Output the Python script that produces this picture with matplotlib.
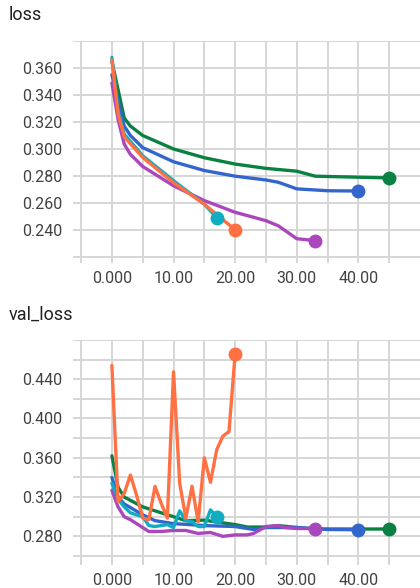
import matplotlib.pyplot as plt
import numpy as np

plt.rcParams['font.family'] = ['Roboto', 'DejaVu Sans']

# run colours (tensorboard style)
col_green = "#0b8043"
col_blue = "#3366cc"
col_purple = "#ab47bc"
col_cyan = "#12acc1"
col_orange = "#ff7043"

# ---- loss (train) ----
loss_green_x = [0, 2, 3, 5, 10, 15, 20, 25, 30, 33, 45]
loss_green_y = [0.365, 0.323, 0.317, 0.310, 0.300, 0.2935, 0.2888, 0.2856, 0.2835, 0.2798, 0.2785]
loss_blue_x = [0, 2, 3, 5, 10, 15, 20, 25, 27, 30, 35, 40]
loss_blue_y = [0.355, 0.317, 0.310, 0.301, 0.2905, 0.284, 0.2798, 0.277, 0.2753, 0.2704, 0.269, 0.2688]
loss_purple_x = [0, 1, 2, 3, 5, 10, 15, 20, 25, 27, 30, 33]
loss_purple_y = [0.349, 0.322, 0.3036, 0.296, 0.287, 0.2727, 0.2617, 0.253, 0.2468, 0.243, 0.2334, 0.232]
loss_cyan_x = [0, 1, 2, 5, 10, 15, 17]
loss_cyan_y = [0.368, 0.328, 0.311, 0.295, 0.2765, 0.259, 0.249]
loss_orange_x = [0, 1, 2, 5, 10, 15, 20]
loss_orange_y = [0.366, 0.326, 0.309, 0.2937, 0.275, 0.259, 0.240]

# ---- val_loss ----
val_green_x = [0, 1, 2, 5, 7, 10, 12, 15, 20, 22, 25, 27, 30, 33, 35, 45]
val_green_y = [0.362, 0.330, 0.320, 0.310, 0.306, 0.300, 0.296, 0.2965, 0.292, 0.2895,
               0.2895, 0.291, 0.289, 0.2875, 0.2875, 0.2875]
val_blue_x = [0, 1, 2, 5, 7, 10, 15, 20, 23, 25, 30, 35, 40]
val_blue_y = [0.340, 0.320, 0.313, 0.302, 0.296, 0.293, 0.291, 0.290, 0.287, 0.289, 0.289, 0.287, 0.2867]
val_purple_x = [0, 1, 2, 3, 4, 5, 6, 8, 10, 12, 14, 16, 18, 20, 22, 23, 25, 27, 28, 30, 33]
val_purple_y = [0.327, 0.310, 0.300, 0.297, 0.293, 0.289, 0.285, 0.285, 0.286, 0.286, 0.283,
                0.284, 0.280, 0.2815, 0.2815, 0.283, 0.290, 0.291, 0.289, 0.288, 0.288]
val_cyan_x = list(range(0, 18))
val_cyan_y = [0.334, 0.318, 0.310, 0.304, 0.302, 0.300, 0.291, 0.290, 0.291, 0.292, 0.289,
              0.306, 0.296, 0.295, 0.290, 0.290, 0.307, 0.300]
val_orange_x = list(range(0, 21))
val_orange_y = [0.454, 0.3153, 0.3237, 0.3424, 0.322, 0.2986, 0.297, 0.3308, 0.3136, 0.2986,
                0.4474, 0.334, 0.2986, 0.331, 0.295, 0.360, 0.335, 0.368, 0.382, 0.3866, 0.466]

x_ticks = [0, 10, 20, 30, 40]
x_labels = ["0.000", "10.00", "20.00", "30.00", "40.00"]
loss_ticks = [0.24, 0.26, 0.28, 0.30, 0.32, 0.34, 0.36]
val_ticks = [0.28, 0.32, 0.36, 0.40, 0.44]

fig = plt.figure(figsize=(4.2, 5.88), dpi=100)
ax1 = fig.add_axes([0.174, 0.553, 0.826, 0.377])
ax2 = fig.add_axes([0.174, 0.039, 0.826, 0.383])


def style(ax, ylim, major, minor):
    ax.set_xlim(-6.3, 50)
    ax.set_ylim(*ylim)
    ax.set_xticks(x_ticks)
    ax.set_xticklabels(x_labels)
    ax.set_xticks(np.arange(-5, 50, 5), minor=True)
    ax.set_yticks(major)
    ax.set_yticklabels(["%.3f" % v for v in major])
    ax.set_yticks(minor, minor=True)
    ax.grid(True, which="both", color="#d6d6d6", lw=1.4)
    ax.set_axisbelow(True)
    for s in ax.spines.values():
        s.set_visible(False)
    ax.tick_params(which="both", length=0, labelsize=11.5, colors="#424242")
    ax.tick_params(axis="y", pad=8)
    ax.tick_params(axis="x", pad=6)


def run(ax, x, y, c):
    ax.plot(x, y, color=c, lw=2.4, solid_capstyle="round", zorder=3)
    ax.plot(x[-1], y[-1], "o", color=c, ms=9, zorder=4)


style(ax1, (0.2155, 0.38), loss_ticks, np.arange(0.22, 0.381, 0.02))
run(ax1, loss_green_x, loss_green_y, col_green)
run(ax1, loss_blue_x, loss_blue_y, col_blue)
run(ax1, loss_purple_x, loss_purple_y, col_purple)
run(ax1, loss_cyan_x, loss_cyan_y, col_cyan)
run(ax1, loss_orange_x, loss_orange_y, col_orange)

style(ax2, (0.2508, 0.48), val_ticks, np.arange(0.26, 0.481, 0.02))
run(ax2, val_green_x, val_green_y, col_green)
run(ax2, val_blue_x, val_blue_y, col_blue)
run(ax2, val_purple_x, val_purple_y, col_purple)
run(ax2, val_cyan_x, val_cyan_y, col_cyan)
run(ax2, val_orange_x, val_orange_y, col_orange)

fig.text(0.02, 0.975, "loss", fontsize=13, color="#212121", va="center")
fig.text(0.02, 0.465, "val_loss", fontsize=13, color="#212121", va="center")

fig.savefig("out.png", dpi=100)
